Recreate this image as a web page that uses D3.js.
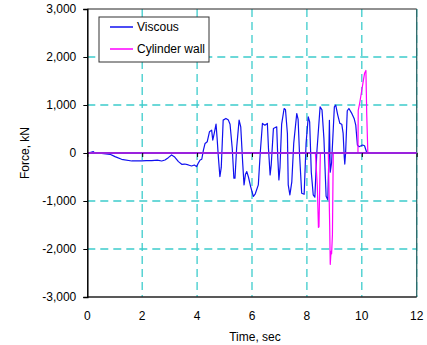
<!DOCTYPE html>
<html>
<head>
<meta charset="utf-8">
<script src="https://cdn.jsdelivr.net/npm/d3@7"></script>
<style>
  body { margin: 0; background: #fff; }
  text { font-family: "Liberation Sans", Arial, sans-serif; fill: #000; }
</style>
</head>
<body>
<script>
// time (sec) and force (kN)
const viscousTime = [0.00, 0.10, 0.22, 0.28, 0.52, 0.83, 1.01, 1.25, 1.62, 1.98, 2.15, 2.35, 2.55, 2.71, 2.83, 2.95, 3.07, 3.17, 3.32, 3.44, 3.55, 3.68, 3.80, 3.90, 3.98, 4.04, 4.11, 4.17, 4.23, 4.29, 4.37, 4.45, 4.53, 4.57, 4.62, 4.69, 4.73, 4.77, 4.83, 4.88, 4.95, 5.05, 5.14, 5.20, 5.28, 5.34, 5.38, 5.44, 5.53, 5.59, 5.66, 5.71, 5.76, 5.81, 5.87, 5.95, 6.05, 6.12, 6.23, 6.30, 6.38, 6.47, 6.56, 6.60, 6.66, 6.70, 6.78, 6.90, 6.94, 6.98, 7.02, 7.08, 7.17, 7.22, 7.29, 7.32, 7.38, 7.45, 7.52, 7.63, 7.68, 7.73, 7.81, 7.90, 7.97, 8.05, 8.10, 8.16, 8.23, 8.29, 8.36, 8.48, 8.55, 8.62, 8.70, 8.76, 8.79, 8.82, 8.85, 8.90, 9.00, 9.05, 9.12, 9.20, 9.27, 9.32, 9.36, 9.38, 9.41, 9.47, 9.53, 9.64, 9.72, 9.78, 9.84, 9.90, 10.03, 10.10, 10.17, 10.20];
const viscousForce = [0, 10, 27, -6, -6, -27, -76, -131, -166, -166, -160, -159, -150, -166, -145, -97, -41, -76, -180, -235, -230, -249, -270, -250, -284, -214, -145, -130, 62, 200, 235, 442, 477, 270, 400, 602, 300, -50, -491, -300, 685, 720, 685, 600, 100, -525, -525, 100, 685, 546, -200, -664, -450, -388, -500, -700, -906, -850, -664, 0, 616, 580, 616, 100, -456, -250, 512, 546, -100, -560, -300, 600, 927, 900, 400, -664, -871, -600, 200, 823, 700, 0, -837, -860, 200, 754, 650, -400, -871, -920, 0, 960, 900, 300, -900, -975, -300, 680, -400, -200, 960, 996, 800, 616, 600, 408, -76, -230, 0, 880, 927, 820, 720, 580, 166, 131, 166, 150, 27, 0];

const wallTime = [0.00, 8.31, 8.38, 8.42, 8.44, 8.47, 8.49, 8.78, 8.83, 8.85, 8.88, 8.90, 8.93, 8.96, 9.86, 9.87, 9.92, 9.98, 10.04, 10.10, 10.15, 10.18, 10.22, 12.00];
const wallForce = [0, 0, -700, -1550, -1540, -600, 0, 0, -1500, -2320, -2050, -2100, -1700, 0, 0, 890, 1030, 1240, 1450, 1660, 1720, 800, 0, 0];

const xTicks = [0, 2, 4, 6, 8, 10, 12];
const yTicks = [-3000, -2000, -1000, 0, 1000, 2000, 3000];
const seriesNames = ["Viscous", "Cylinder wall"];
const seriesColors = ["#1010f0", "#ff00ff"];

const width = 427, height = 345;
const margin = { top: 9, right: 10.3, bottom: 48, left: 87.3 };

const svg = d3.select("body").append("svg")
  .attr("width", width)
  .attr("height", height);

const x = d3.scaleLinear().domain([0, 12]).range([margin.left, width - margin.right]);
const y = d3.scaleLinear().domain([-3000, 3000]).range([height - margin.bottom, margin.top]);

// dashed grid
const grid = svg.append("g")
  .attr("stroke", "#3ccccc")
  .attr("stroke-width", 1.3)
  .attr("stroke-dasharray", "8,5");
grid.selectAll("line.v")
  .data(xTicks.filter(d => d > 0))
  .enter().append("line")
  .attr("x1", d => x(d)).attr("x2", d => x(d))
  .attr("y1", y(3000)).attr("y2", y(-3000));
grid.selectAll("line.h")
  .data(yTicks.filter(d => d !== 0 && Math.abs(d) < 3000))
  .enter().append("line")
  .attr("x1", x(0)).attr("x2", x(12))
  .attr("y1", d => y(d)).attr("y2", d => y(d));

// frame
svg.append("line").attr("x1", x(0)).attr("x2", x(12)).attr("y1", y(3000)).attr("y2", y(3000))
  .attr("stroke", "#222").attr("stroke-width", 1);
svg.append("line").attr("x1", x(12)).attr("x2", x(12)).attr("y1", y(3000)).attr("y2", y(-3000))
  .attr("stroke", "#2e6666").attr("stroke-width", 1.3);
svg.append("line").attr("x1", x(0)).attr("x2", x(12)).attr("y1", y(-3000)).attr("y2", y(-3000))
  .attr("stroke", "#222").attr("stroke-width", 1.5);

const line = d3.line()
  .x(d => x(d[0]))
  .y(d => y(d[1]));

const viscous = d3.zip(viscousTime, viscousForce);
const wall = d3.zip(wallTime, wallForce);

svg.append("path")
  .datum(viscous)
  .attr("d", line)
  .attr("fill", "none")
  .attr("stroke", seriesColors[0])
  .attr("stroke-width", 1.2)
  .attr("stroke-linejoin", "round");

svg.append("path")
  .datum(wall)
  .attr("d", line)
  .attr("fill", "none")
  .attr("stroke", seriesColors[1])
  .attr("stroke-width", 1.2)
  .attr("stroke-linejoin", "round");

// zero line, where both series overlap
svg.append("line")
  .attr("x1", x(0)).attr("x2", x(12))
  .attr("y1", y(0)).attr("y2", y(0))
  .attr("stroke", "#9a22dd")
  .attr("stroke-width", 2);

// x axis ticks sit on the zero line, labels at the bottom
svg.append("g")
  .attr("transform", `translate(0,${y(0)})`)
  .call(d3.axisBottom(x).tickValues(xTicks).tickSize(4).tickFormat(""))
  .call(g => g.select(".domain").remove())
  .call(g => g.selectAll(".tick line").attr("stroke", "#000"));

svg.append("g")
  .selectAll("text")
  .data(xTicks)
  .enter().append("text")
  .attr("x", d => x(d))
  .attr("y", y(-3000) + 23)
  .attr("text-anchor", "middle")
  .attr("font-size", 12)
  .text(d => d);

// plain hyphen for negatives, as in the picture
const fmt = d => d3.format(",")(d).replace("\u2212", "-");

const yAxis = svg.append("g")
  .attr("transform", `translate(${x(0)},0)`)
  .call(d3.axisLeft(y).tickValues(yTicks).tickSize(4).tickPadding(7).tickFormat(fmt));
yAxis.select(".domain").attr("stroke", "#000").attr("stroke-width", 1.5);
yAxis.selectAll("text")
  .attr("font-size", 12)
  .attr("font-family", "Liberation Sans, Arial, sans-serif")
  .attr("fill", "#000");

svg.append("text")
  .attr("x", (x(0) + x(12)) / 2 + 3)
  .attr("y", height - 4)
  .attr("text-anchor", "middle")
  .attr("font-size", 12)
  .text("Time, sec");

svg.append("text")
  .attr("transform", `translate(29,${y(0)}) rotate(-90)`)
  .attr("text-anchor", "middle")
  .attr("font-size", 12)
  .text("Force, kN");

// legend
const legend = svg.append("g").attr("transform", "translate(99,17)");
legend.append("rect")
  .attr("width", 110).attr("height", 45)
  .attr("fill", "#fff").attr("stroke", "#333").attr("stroke-width", 1);
seriesNames.forEach((name, i) => {
  const ly = 10 + i * 22;
  legend.append("line")
    .attr("x1", 11).attr("x2", 34)
    .attr("y1", ly).attr("y2", ly)
    .attr("stroke", seriesColors[i]).attr("stroke-width", 1.5);
  legend.append("text")
    .attr("x", 38).attr("y", ly + 4)
    .attr("font-size", 12)
    .text(name);
});
</script>
</body>
</html>
